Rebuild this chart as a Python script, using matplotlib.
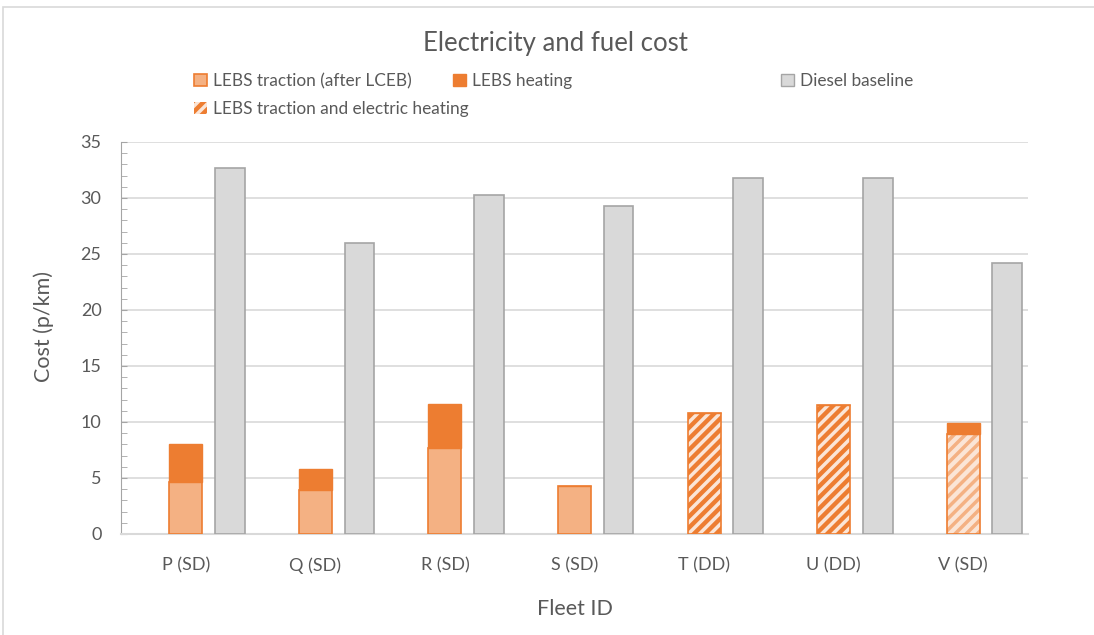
import numpy as np
import matplotlib
matplotlib.use("Agg")
import matplotlib.pyplot as plt
from matplotlib.patches import Patch, Rectangle

plt.rcParams['font.family'] = ['Lato', 'DejaVu Sans']
plt.rcParams['hatch.linewidth'] = 2.5

# data
fleets = ['P (SD)', 'Q (SD)', 'R (SD)', 'S (SD)', 'T (DD)', 'U (DD)', 'V (SD)']
traction = [4.6, 3.9, 7.7, 4.3, 0, 0, 0]
combined = [0, 0, 0, 0, 10.8, 11.5, 8.9]
heating = [3.4, 1.9, 3.9, 0, 0, 0, 1.0]
diesel = [32.7, 26.0, 30.3, 29.3, 31.8, 31.8, 24.2]

orange = '#ED7D31'
light = '#F4B183'
pale = '#FBE5D6'
grey = '#D9D9D9'
grey_edge = '#A5A5A5'
txt = '#595959'

W, H = 1094, 635
fig = plt.figure(figsize=(W / 100, H / 100), dpi=100)
ax = fig.add_axes([121 / W, 1 - 534 / H, (1028 - 121) / W, (534 - 142) / H])

x = np.arange(len(fleets))
tr = np.array(traction)
cb = np.array(combined)
ht = np.array(heating)

w_o = 0.255
ax.bar(x, tr, w_o, color=light, edgecolor=orange, linewidth=1.2, zorder=3)

# hatched bars (traction + electric heating)
for i in range(len(x)):
    if cb[i] == 0:
        continue
    if i < 6:
        ax.bar(x[i], cb[i], w_o, color=orange, edgecolor=pale, hatch='///', linewidth=0, zorder=3)
    else:
        ax.bar(x[i], cb[i], w_o, color=pale, edgecolor=light, hatch='///', linewidth=0, zorder=3)
    ax.bar(x[i], cb[i], w_o, fill=False, edgecolor=orange, linewidth=1.2, zorder=4)

ax.bar(x, ht, w_o, bottom=tr + cb, color=orange, edgecolor=orange, linewidth=1.0, zorder=3)
ax.bar(x + 0.34, diesel, 0.23, color=grey, edgecolor=grey_edge, linewidth=1.2, zorder=3)

ax.set_xlim(-0.5, len(fleets) - 0.5)
ax.set_ylim(0, 35)
ax.set_yticks(range(0, 36, 5))
ax.set_yticks(range(0, 36), minor=True)
ax.set_xticks(x)
ax.set_xticklabels(fleets)
ax.grid(axis='y', color=grey, linewidth=1.2, zorder=0)
ax.set_axisbelow(True)

for s in ['top', 'right']:
    ax.spines[s].set_visible(False)
ax.spines['left'].set_color(grey_edge)
ax.spines['bottom'].set_color(grey)
ax.spines['bottom'].set_linewidth(1.5)
ax.tick_params(axis='y', which='both', direction='in', colors=grey_edge, labelcolor=txt,
               labelsize=13, pad=14)
ax.tick_params(axis='y', which='major', length=4)
ax.tick_params(axis='y', which='minor', length=4)
ax.tick_params(axis='x', length=0, labelcolor=txt, labelsize=13, pad=17)

# place the y label directly in figure coords
fig.text(44 / W, 1 - 327 / H, 'Cost (p/km)', rotation=90, ha='center', va='center',
         fontsize=15.5, color=txt)
ax.set_xlabel('Fleet ID', fontsize=15.5, color=txt, labelpad=18)
fig.text(555 / W, 1 - 44 / H, 'Electricity and fuel cost', ha='center', va='center',
         fontsize=18.5, color=txt)

# legend pieces placed like the original
h_tr = Patch(facecolor=light, edgecolor=orange, linewidth=1.2)
h_ht = Patch(facecolor=orange, edgecolor=orange)
h_ds = Patch(facecolor=grey, edgecolor=grey_edge)
h_cb = Patch(facecolor=orange, edgecolor=pale, hatch='///', linewidth=0)
kw = dict(loc='upper left', frameon=False, handlelength=0.75, handleheight=0.75,
          handletextpad=0.35, borderaxespad=0, borderpad=0, labelspacing=0.7,
          fontsize=12.4, labelcolor=txt)
fig.legend([h_tr, h_cb], ['LEBS traction (after LCEB)', 'LEBS traction and electric heating'],
           bbox_to_anchor=(194 / W, 1 - 73 / H), **kw)
fig.legend([h_ht], ['LEBS heating'], bbox_to_anchor=(453 / W, 1 - 73 / H), **kw)
fig.legend([h_ds], ['Diesel baseline'], bbox_to_anchor=(781 / W, 1 - 73 / H), **kw)

fig.patches.append(Rectangle((3 / W, -0.1), 1.2, 1 - 7 / H + 0.1, transform=fig.transFigure,
                             fill=False, edgecolor=grey, linewidth=1.2))

fig.savefig('out.png', dpi=100)
